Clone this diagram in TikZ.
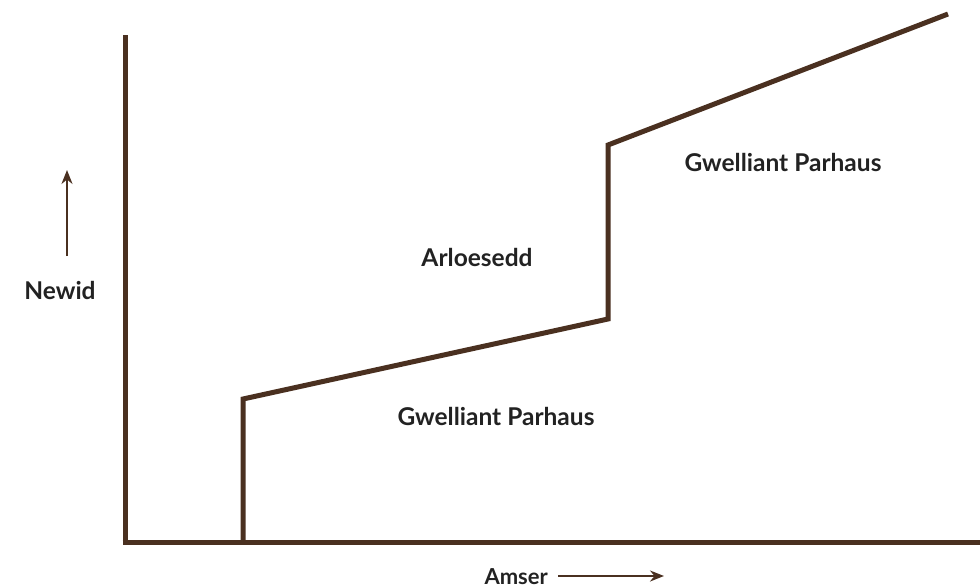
\documentclass[tikz,border=0pt]{standalone}
\usepackage{fontspec}
\setmainfont{Lato}
\usetikzlibrary{arrows.meta}
\definecolor{brn}{HTML}{4A3020}
\definecolor{txt}{HTML}{222222}
\begin{document}
\begin{tikzpicture}[x=1pt,y=-1pt,
  axis/.style={draw=brn,line width=5pt},
  curve/.style={draw=brn,line width=5pt,line join=miter},
  ptr/.style={draw=brn,line width=2pt,-{Stealth[length=14pt,width=11pt]}},
  lbl/.style={text=txt,font=\bfseries\fontsize{24.5}{28}\selectfont,inner sep=0pt}]
\useasboundingbox (0,0) rectangle (980,587);
\coordinate (ytop) at (125,35);
\coordinate (orig) at (125,542);
\coordinate (xend) at (980,542);
\coordinate (s0) at (243,542);
\coordinate (s1) at (243,399);
\coordinate (s2) at (608,319);
\coordinate (s3) at (608,145);
\coordinate (s4) at (948,14);
\draw[axis] (ytop) -- ([yshift=2.5pt]orig) ;
\draw[axis] ([xshift=-2.5pt]orig) -- (xend);
\draw[curve] (s0) -- (s1) -- (s2) -- (s3) -- (s4);
\node[lbl] (arl) at (477,257) {Arloesedd};
\node[lbl] (gp1) at (496,416) {Gwelliant Parhaus};
\node[lbl] (gp2) at (783,162) {Gwelliant Parhaus};
\node[lbl] (newid) at (60,290) {Newid};
\node[lbl,font=\bfseries\fontsize{22}{26}\selectfont,anchor=base east] (amser) at (548,584) {Amser};
\coordinate (ya) at (67,256);
\coordinate (yb) at (67,170);
\coordinate (xa) at (558,576);
\coordinate (xb) at (664,576);
\draw[ptr] (ya) -- (yb);
\draw[ptr] (xa) -- (xb);
\end{tikzpicture}
\end{document}
